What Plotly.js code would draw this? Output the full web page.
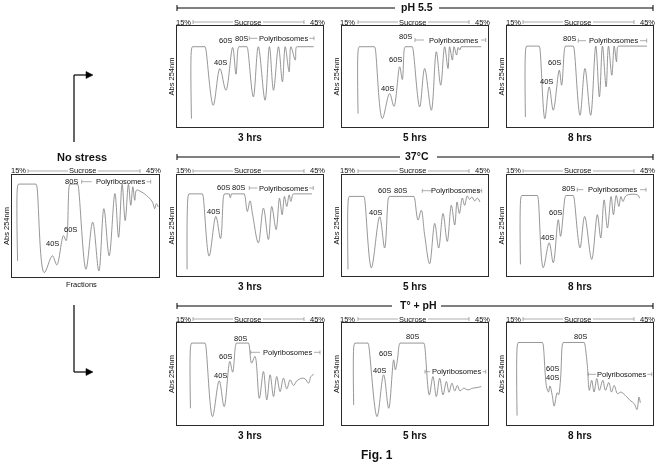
<!DOCTYPE html>
<html><head><meta charset="utf-8">
<script src="https://cdn.plot.ly/plotly-3.0.1.min.js"></script>
<style>html,body{margin:0;padding:0;background:#fff}#chart{width:660px;height:465px;will-change:transform;-webkit-font-smoothing:antialiased}</style>
</head><body><div id="chart"></div>
<script>
// ---------- DATA (fraction position 0-100, Abs 254nm 0-100) ----------
const noStressX=[3.8,3.8,4.4,16.3,16.9,21.9,27.5,30.5,35.0,36.8,38.9,39.5,44.6,45.1,50.3,54.9,59.1,62.5,66.1,70.0,72.5,74.9,77.0,79.2,80.8,82.2,83.5,84.7,88.0,92.6,95.5,97.1,98.2,99.5];
const noStressY=[15.8,89,91.1,91.1,89,4.3,20.8,11.9,40.6,35.6,89,91.1,91.1,89,7.6,53.8,5.9,67.0,20.8,81.8,38.9,90.8,55.4,90.8,70.3,88.4,75.2,85.1,83.5,78.5,73.6,67.0,71.9,68.6];

const ph3X=[9.9,10.0,10.6,19.2,19.7,24.8,29.4,33.5,38.1,40.4,41.8,42.4,47.9,48.4,52.3,55.7,60.3,63.3,66.1,69.5,72.2,74.1,76.8,78.0,81.0,81.7,82.5,93.6];
const ph3Y=[8.3,77.5,79.5,79.5,77.5,21.5,57.9,36.4,78.8,52.3,77.5,79.5,79.5,77.5,29.8,79.5,26.5,79.5,36.4,79.5,44.7,79.5,54.6,79.5,66.2,79.0,79.5,79.5];

const ph5X=[11.0,11.2,11.8,22.3,22.8,27.6,32.6,35.6,39.5,41.3,42.7,43.3,48.1,48.6,53.2,56.6,61.2,64.6,67.6,70.3,72.6,73.7,75.6,76.7,78.5,79.5,80.6,81.5,95.4];
const ph5Y=[13.2,77.5,79.5,79.5,77.5,8.3,33.1,20.5,59.6,47.0,77.5,79.5,79.5,77.5,19.9,57.9,16.6,74.5,41.4,79.5,57.9,79.5,66.2,79.5,71.2,78.8,76.2,79.5,79.5];

const ph8X=[12.6,12.9,13.5,22.0,22.5,25.9,28.9,31.7,35.8,37.4,39.5,40.1,45.4,45.9,50.0,53.4,57.3,60.8,63.3,65.4,67.9,69.5,71.8,73.4,75.0,75.9,76.8,95.9];
const ph8Y=[9.9,78,80.1,80.1,78,8.3,39.7,16.6,56.3,41.4,78,80.1,80.1,78,11.6,57.9,11.6,80.1,29.8,80.1,39.7,80.1,51.3,80.1,64.6,79.5,80.1,80.1];

const c3X=[6.9,7.6,8.2,17.4,17.9,22.0,26.6,29.8,31.9,32.5,35.8,36.5,37.2,46.1,46.6,48.2,50.0,51.8,55.7,59.2,62.6,64.9,67.9,70.2,72.0,73.6,75.2,76.8,78.0,79.4,80.2,92.4];
const c3Y=[6.6,79,81.3,81.3,79,19.7,59.0,37.0,79,81.3,81.3,77.5,81.3,81.3,79,63.9,74.4,60.7,32.8,67.2,36.1,68.9,45.9,77.0,60.7,78.7,68.9,80.3,73.8,81.0,81.3,81.3];

const c5X=[4.1,4.4,5.0,15.0,15.5,20.1,25.8,29.2,31.7,32.3,49.3,49.8,52.1,54.3,56.6,60.0,63.5,66.2,69.2,72.1,74.9,77.2,78.8,80.4,82.4,84.0,85.8,87.4,89.0,90.9,92.7,94.5];
const c5Y=[6.5,76.5,78.8,78.8,76.5,8.1,58.6,27.7,76.5,78.8,78.8,76.5,55.4,65.1,40.7,12.1,52.1,27.7,61.9,34.2,70.0,50.5,73.3,61.9,77.2,70.0,79.2,75.9,78.2,74.3,77.2,73.3];

const c8X=[9.2,9.5,10.1,20.8,21.3,24.8,28.9,31.7,35.1,36.7,39.7,40.3,45.4,45.9,50.0,53.2,58.0,61.9,64.2,66.5,68.8,71.3,72.9,74.8,76.6,78.0,79.4,81.7,89.4,90.8];
const c8Y=[11.5,77.5,79.7,79.7,77.5,8.2,32.8,13.1,55.7,39.3,77.5,79.7,79.7,77.5,27.9,59.0,16.4,60.7,37.7,75.4,47.5,78.7,60.7,79.7,68.9,78.7,73.8,79.7,80.3,77.0];

const t3X=[9.2,9.4,10.0,19.2,19.7,24.3,28.9,32.3,36.2,38.1,40.1,40.7,49.0,49.5,51.1,53.4,56.4,59.2,61.5,63.8,66.1,68.3,70.6,72.9,75.2,77.5,79.8,82.1,85.6,87.8,90.1,91.7,93.6];
const t3Y=[16.4,78,80.3,80.3,78,8.2,43.3,18.0,62.3,51.8,78,80.3,80.3,78,60.7,67.2,26.2,52.5,24.6,49.2,27.9,47.5,32.8,45.9,35.4,44.3,38.7,43.3,45.9,45.2,41.0,47.5,49.8];

const t5X=[8.0,8.2,8.8,17.8,18.3,24.0,28.5,32.0,35.4,36.5,37.9,39.1,39.7,56.1,56.6,59.8,62.3,64.6,66.9,69.2,71.5,73.3,75.3,77.2,79.0,80.8,83.3,86.3,89.5,92.5,95.4];
const t5Y=[19.7,78,80.3,80.3,78,8.2,49.2,16.4,63.9,54.1,63.0,78,80.3,80.3,78,29.5,47.5,27.9,45.9,29.5,42.6,32.1,41.0,33.4,38.7,33.4,36.1,34.4,36.1,36.7,37.7];

const t8X=[6.9,7.1,7.7,24.3,24.8,27.1,28.4,29.4,31.0,32.3,34.4,35.3,36.7,37.9,38.5,52.9,53.4,55.0,56.4,58.0,59.6,61.5,63.3,65.6,67.4,69.7,71.6,73.4,75.7,78.0,81.0,84.4,87.2,89.0,90.4,91.3];
const t8Y=[9.2,78.5,80.9,80.9,78.5,37.3,32.3,38.3,29.0,18.5,31.7,29.7,45.5,78.5,80.9,80.9,78.5,58.7,34.0,43.9,32.3,45.5,34.0,43.9,34.0,41.6,32.3,38.9,30.7,32.3,29.0,24.1,20.8,15.2,27.4,21.8];

const rowTitles=['pH 5.5','37°C','T° + pH'];
const timeLabels=['3 hrs','5 hrs','8 hrs'];
const gradientLabels=['15%','Sucrose','45%'];

// ---------- LAYOUT (pixels) ----------
const W=660,H=465;
const fx=p=>p/W, fy=p=>1-p/H;
const series=[[noStressX,noStressY],[ph3X,ph3Y],[ph5X,ph5Y],[ph8X,ph8Y],[c3X,c3Y],[c5X,c5Y],[c8X,c8Y],[t3X,t3Y],[t5X,t5Y],[t8X,t8Y]];
const COLS=[[177,323],[342,488],[507,653]];
const ROWS=[[26,127],[175,276],[323,425]];
const boxes=[{l:12,r:159,t:175,b:277}];
ROWS.forEach(rw=>COLS.forEach(c=>boxes.push({l:c[0],r:c[1],t:rw[0],b:rw[1]})));

const peakLbl=[
 [['80S',71.7,181.7],['60S',70.3,229.3],['40S',52.5,243.3]],
 [['60S',225.7,40.7],['80S',241.7,38.3],['40S',220,62.7]],
 [['80S',405.8,36.7],['60S',395,59.3],['40S',387.5,88.3]],
 [['80S',569.7,38.3],['60S',554.7,62.7],['40S',546.2,81]],
 [['60S',223.3,187.3],['80S',238.3,187.3],['40S',213.7,211.3]],
 [['60S',384.2,190.7],['80S',400.8,190.7],['40S',375.8,212]],
 [['80S',568.8,188],['60S',555.3,212],['40S',547,237.3]],
 [['80S',240.8,338.3],['60S',225.8,356.7],['40S',220,375]],
 [['80S',412.5,336.7],['60S',385.7,353.3],['40S',379.2,370]],
 [['80S',580,336],['60S',552,368.3],['40S',552,377.7]]
];
const brk=[
 [81.7,91.7,120,146.7,150.7,181.7],
 [249.3,257.3,283.3,309.3,314,38.3],
 [415,424,453,481,485.7,40],
 [578.3,586,613.3,640,646.7,40.7],
 [249.3,257.3,283.3,309.3,313.3,188],
 [422.3,431.7,455,477,481.7,190.7],
 [577.3,583.3,612,640,646,189.7],
 [250.7,260,287.5,314,320,352.3],
 [425,430,456,482.7,485.7,371.7],
 [588.3,596,621.7,647.3,651.7,374.3]
];

const FONT='Liberation Sans, Arial, Helvetica, sans-serif';
const TXT='#111', GRAY='#8a8a8a', CURVE='#7c7c7c';
const traces=[], shapes=[], ann=[];
const layout={width:W,height:H,margin:{l:0,r:0,t:0,b:0},showlegend:false,
  paper_bgcolor:'#fff',plot_bgcolor:'rgba(0,0,0,0)',font:{family:FONT,color:TXT}};

function seg(x0,y0,x1,y1,color,w){shapes.push({type:'line',xref:'paper',yref:'paper',x0:fx(x0),y0:fy(y0),x1:fx(x1),y1:fy(y1),line:{color:color,width:w}});}
function txt(t,x,y,size,opts){ann.push(Object.assign({text:t,xref:'paper',yref:'paper',x:fx(x),y:fy(y),showarrow:false,xanchor:'center',yanchor:'middle',font:{family:FONT,size:size,color:TXT}},opts||{}));}

// split a profile at its flat (saturated) stretches: flat parts straight, the rest smooth
function addProfile(X,Y,xa,ya){
  let start=0;
  const push=(a,b,shape)=>{ if(b>a) traces.push({type:'scatter',mode:'lines',x:X.slice(a,b+1),y:Y.slice(a,b+1),xaxis:xa,yaxis:ya,
      line:{color:CURVE,width:0.8,shape:shape,smoothing:1},hoverinfo:'skip'}); };
  let i=0;
  while(i<X.length-1){
    if(Y[i]===Y[i+1]){
      let j=i; while(j<X.length-1 && Y[j]===Y[j+1]) j++;
      push(start,i,'spline'); push(i,j,'linear'); start=j; i=j;
    } else i++;
  }
  push(start,X.length-1,'spline');
}

boxes.forEach((b,i)=>{
  const n=i===0?'':String(i+1);
  layout['xaxis'+n]={domain:[fx(b.l),fx(b.r)],range:[0,100],anchor:'y'+n,showgrid:false,zeroline:false,showticklabels:false,ticks:'',showline:true,mirror:true,linecolor:'#2a2a2a',linewidth:1,fixedrange:true};
  layout['yaxis'+n]={domain:[fy(b.b),fy(b.t)],range:[0,100],anchor:'x'+n,showgrid:false,zeroline:false,showticklabels:false,ticks:'',showline:true,mirror:true,linecolor:'#2a2a2a',linewidth:1,fixedrange:true};
  addProfile(series[i][0],series[i][1],'x'+n,'y'+n);
  const gy=b.t-4;
  txt(gradientLabels[0],b.l+6,gy,7.5);
  txt(gradientLabels[1],b.l+71,gy,7.5);
  txt(gradientLabels[2],b.r-6,gy,7.5);
  seg(b.l+16,gy,b.l+56,gy,GRAY,0.7); seg(b.l+16,gy-2,b.l+16,gy+2,GRAY,0.7);
  seg(b.l+86,gy,b.r-19,gy,GRAY,0.7); seg(b.r-19,gy-2,b.r-19,gy+2,GRAY,0.7);
  txt('Abs 254nm',b.l-6,(b.t+b.b)/2,7.5,{textangle:-90});
  peakLbl[i].forEach(p=>txt(p[0],p[1],p[2],7.5));
  const k=brk[i];
  txt('Polyribosomes',k[2],k[5],7.5);
  seg(k[0],k[5],k[1],k[5],GRAY,0.7); seg(k[0],k[5]-2,k[0],k[5]+2,GRAY,0.7);
  seg(k[3],k[5],k[4],k[5],GRAY,0.7); seg(k[4],k[5]-2,k[4],k[5]+2,GRAY,0.7);
  if(i>0){ const c=(i-1)%3; txt('<b>'+timeLabels[c]+'</b>',(b.l+b.r)/2,b.b+10,10); }
});
txt('<b>No stress</b>',81.7,157.3,11);
txt('Fractions',81,284,7.5);
txt('<b>Fig. 1</b>',377,455,12);

const hdr=[[8,395,439,417,7],[157,400,437,417,155.5],[306,392,441,418,305]];
hdr.forEach((h,r)=>{
  seg(177,h[0],h[1],h[0],'#000',1); seg(h[2],h[0],653,h[0],'#000',1);
  seg(177,h[0]-3,177,h[0]+3,'#000',1); seg(653,h[0]-3,653,h[0]+3,'#000',1);
  txt('<b>'+rowTitles[r]+'</b>',h[3],h[4],10.5);
});

function arrow(yTop,yBot,yH){
  seg(74,yTop,74,yBot,'#000',1.2); seg(74,yH,87,yH,'#000',1.2);
  shapes.push({type:'path',xref:'paper',yref:'paper',
    path:'M '+fx(86)+' '+fy(yH-3.5)+' L '+fx(93)+' '+fy(yH)+' L '+fx(86)+' '+fy(yH+3.5)+' Z',
    fillcolor:'#000',line:{color:'#000',width:0.5}});
}
arrow(75,142,75);
arrow(305,372,372);

layout.shapes=shapes; layout.annotations=ann;
Plotly.newPlot('chart',traces,layout,{staticPlot:true,displayModeBar:false});
</script></body></html>
